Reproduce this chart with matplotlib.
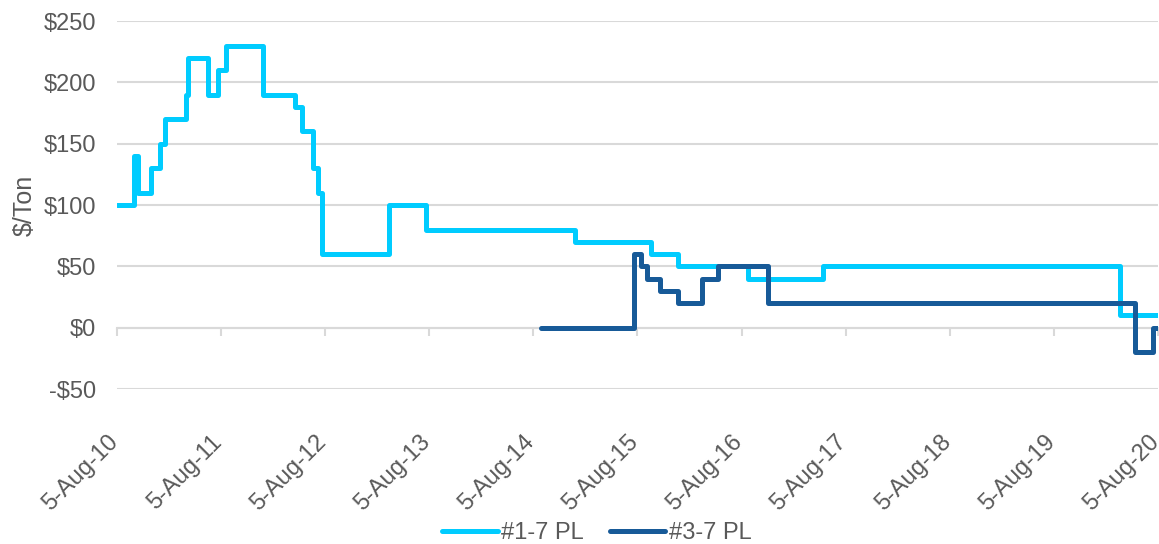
import matplotlib
matplotlib.use("Agg")
import matplotlib.pyplot as plt
import matplotlib.transforms as mtransforms
import pandas as pd

plt.rcParams['font.family'] = ['Liberation Sans', 'DejaVu Sans']

# Series 1: #1-7 PL (step changes: date, $/Ton)
pl17_dates = ["2010-08-05", "2010-10-04", "2010-10-18", "2010-12-02", "2011-01-03",
              "2011-01-20", "2011-04-04", "2011-04-11", "2011-06-20", "2011-07-25",
              "2011-08-22", "2011-12-30", "2012-04-21", "2012-05-15", "2012-06-23",
              "2012-07-10", "2012-07-24", "2013-03-16", "2013-07-24", "2014-12-29",
              "2015-09-22", "2015-12-25", "2016-08-27", "2017-05-17", "2020-03-24",
              "2020-08-05"]
pl17_values = [100, 140, 110, 130, 150,
               170, 190, 220, 190, 210,
               230, 190, 180, 160, 130,
               110, 60, 100, 80, 70,
               60, 50, 40, 50, 10,
               10]

# Series 2: #3-7 PL
pl37_dates = ["2014-09-01", "2015-07-24", "2015-08-18", "2015-09-08", "2015-10-23",
              "2015-12-25", "2016-03-19", "2016-05-14", "2016-11-05", "2020-05-16",
              "2020-07-18", "2020-08-05"]
pl37_values = [0, 60, 50, 40, 30,
               20, 40, 50, 20, -20,
               0, 0]

tick_dates = ["2010-08-05", "2011-08-05", "2012-08-05", "2013-08-05", "2014-08-05",
              "2015-08-05", "2016-08-05", "2017-08-05", "2018-08-05", "2019-08-05",
              "2020-08-05"]
tick_labels = ["5-Aug-10", "5-Aug-11", "5-Aug-12", "5-Aug-13", "5-Aug-14",
               "5-Aug-15", "5-Aug-16", "5-Aug-17", "5-Aug-18", "5-Aug-19", "5-Aug-20"]
y_ticks = [-50, 0, 50, 100, 150, 200, 250]
y_labels = ["-$50", "$0", "$50", "$100", "$150", "$200", "$250"]

c_light = "#00CCFF"
c_dark = "#175A98"
txt = "#595959"
grid = "#D9D9D9"
FS = 17

fig = plt.figure(figsize=(11.59, 5.44), dpi=100)
ax = fig.add_axes([117/1159, 1-389/544, (1158-117)/1159, (389-21)/544])

d1 = pd.to_datetime(pl17_dates)
d2 = pd.to_datetime(pl37_dates)
td = pd.to_datetime(tick_dates)

ax.plot(d1, pl17_values, drawstyle='steps-post', color=c_light, lw=3.6,
        solid_joinstyle='round', solid_capstyle='round', label="#1-7 PL", zorder=3)
ax.plot(d2, pl37_values, drawstyle='steps-post', color=c_dark, lw=3.6,
        solid_joinstyle='round', solid_capstyle='round', label="#3-7 PL", zorder=4)

ax.set_xlim(td[0], td[-1])
ax.set_ylim(-50, 250)
ax.set_yticks(y_ticks)
ax.set_yticklabels(y_labels)
ax.yaxis.grid(True, color=grid, lw=1.5)
ax.set_axisbelow(True)
for s in ['top', 'right', 'left']:
    ax.spines[s].set_visible(False)
ax.spines['bottom'].set_position(('data', 0))
ax.spines['bottom'].set_color(grid)
ax.spines['bottom'].set_linewidth(1.5)
ax.tick_params(axis='y', length=0, labelsize=FS, labelcolor=txt, pad=15)
ax.set_xticks(td)
ax.tick_params(axis='x', length=6, width=1.5, color=grid, labelbottom=False)

sec = ax.secondary_xaxis(0)
sec.set_xticks(td)
sec.set_xticklabels(tick_labels, rotation=45, ha='right', rotation_mode='anchor')
sec.tick_params(axis='x', length=0, labelsize=FS, labelcolor=txt, pad=30)
for s in sec.spines.values():
    s.set_visible(False)
shift = mtransforms.ScaledTranslation(-10/100, 0, fig.dpi_scale_trans)
for lab in sec.get_xticklabels():
    lab.set_transform(lab.get_transform() + shift)

ax.set_ylabel("$/Ton", fontsize=18, color=txt, labelpad=5)

leg = fig.legend(loc='center', bbox_to_anchor=(597/1159, 1-533/544), ncol=2, frameon=False,
                 fontsize=FS, handlelength=2.35, handletextpad=0.15, columnspacing=1.1)
for t in leg.get_texts():
    t.set_color(txt)

fig.savefig("out.png", dpi=100)
